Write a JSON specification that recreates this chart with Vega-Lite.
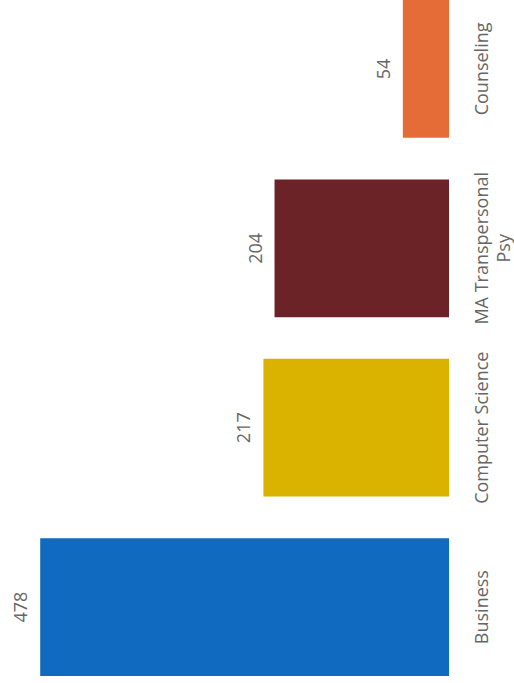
{
  "$schema": "https://vega.github.io/schema/vega-lite/v6.json",
  "width": 449,
  "height": 676,
  "autosize": {"type": "none"},
  "padding": {"left": 0, "top": 0, "right": 65, "bottom": 7},
  "background": "white",
  "config": {"view": {"stroke": null}},
  "data": {
    "values": [
      {"program": "Business", "count": 478},
      {"program": "Computer Science", "count": 217},
      {"program": "MA Transpersonal Psy", "count": 204},
      {"program": "Counseling", "count": 54}
    ]
  },
  "encoding": {
    "y": {
      "field": "program",
      "type": "nominal",
      "sort": ["Counseling", "MA Transpersonal Psy", "Computer Science", "Business"],
      "scale": {"paddingInner": 0.232, "paddingOuter": 0},
      "axis": {
        "orient": "right",
        "title": null,
        "domain": false,
        "ticks": false,
        "tickSize": 0,
        "labelAngle": -90,
        "labelAlign": "center",
        "labelBaseline": "alphabetic",
        "labelPadding": 38.5,
        "labelFont": "Open Sans",
        "labelFontSize": 18,
        "labelColor": "#666666",
        "labelLineHeight": 22,
        "labelExpr": "datum.label == 'MA Transpersonal Psy' ? ['MA Transpersonal', 'Psy'] : datum.label",
        "labelLimit": 0
      }
    },
    "x": {
      "field": "count",
      "type": "quantitative",
      "scale": {"domain": [0, 525], "reverse": true, "nice": false, "zero": true},
      "axis": null
    }
  },
  "layer": [
    {
      "mark": {"type": "bar"},
      "encoding": {
        "color": {
          "field": "program",
          "type": "nominal",
          "scale": {
            "domain": ["Business", "Computer Science", "MA Transpersonal Psy", "Counseling"],
            "range": ["#106AC0", "#D9B300", "#6B2328", "#E66C37"]
          },
          "legend": null
        }
      }
    },
    {
      "mark": {
        "type": "text",
        "angle": -90,
        "align": "center",
        "baseline": "alphabetic",
        "dy": -13,
        "font": "Open Sans",
        "fontSize": 18,
        "color": "#666666"
      },
      "encoding": {
        "text": {"field": "count", "type": "quantitative"}
      }
    }
  ]
}
